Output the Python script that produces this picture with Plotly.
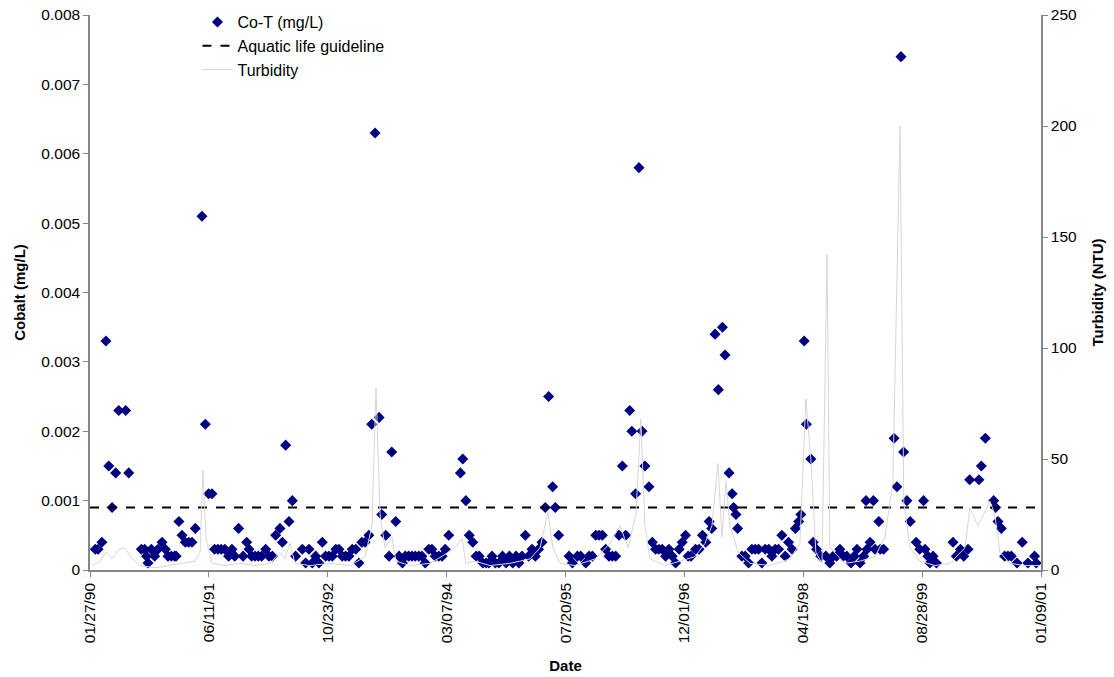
import pandas as pd
import plotly.graph_objects as go

# Cobalt samples: Excel date serials and total cobalt (mg/L)
co_serial = [
    32922, 32934, 32950, 32967, 32979, 32993, 33008, 33021, 33050, 33063,
    33116, 33130, 33138, 33144, 33158, 33172, 33186, 33203, 33217, 33228,
    33242, 33256, 33262, 33274, 33287, 33301, 33315, 33329, 33343, 33371,
    33385, 33399, 33413, 33424, 33438, 33452, 33467, 33483, 33497, 33509,
    33525, 33544, 33559, 33569, 33580, 33594, 33608, 33622, 33639, 33653,
    33667, 33681, 33699, 33709, 33723, 33737, 33751, 33765, 33793, 33807,
    33821, 33835, 33849, 33863, 33877, 33891, 33905, 33919, 33934, 33947,
    33961, 33975, 33989, 34003, 34018, 34031, 34043, 34057, 34073, 34085,
    34099, 34116, 34127, 34144, 34158, 34169, 34186, 34200, 34214, 34226,
    34240, 34254, 34268, 34283, 34296, 34310, 34325, 34338, 34352, 34367,
    34381, 34394, 34409, 34458, 34468, 34481, 34495, 34510, 34524, 34537,
    34552, 34566, 34578, 34591, 34605, 34620, 34635, 34650, 34664, 34678,
    34692, 34704, 34717, 34731, 34745, 34759, 34773, 34787, 34801, 34815,
    34829, 34846, 34857, 34871, 34915, 34929, 34950, 34964, 34985, 34999,
    35013, 35027, 35041, 35055, 35069, 35083, 35097, 35111, 35125, 35139,
    35153, 35170, 35179, 35195, 35209, 35222, 35234, 35251, 35265, 35279,
    35293, 35307, 35321, 35335, 35349, 35363, 35378, 35391, 35405, 35416,
    35428, 35447, 35462, 35476, 35490, 35504, 35515, 35529, 35543, 35560,
    35571, 35588, 35601, 35607, 35617, 35624, 35642, 35656, 35670, 35684,
    35698, 35712, 35726, 35740, 35755, 35768, 35782, 35796, 35810, 35824,
    35838, 35853, 35867, 35881, 35890, 35904, 35913, 35932, 35942, 35956,
    35974, 35995, 36012, 36026, 36040, 36054, 36068, 36083, 36101, 36115,
    36126, 36139, 36154, 36164, 36168, 36181, 36195, 36202, 36218, 36224,
    36238, 36282, 36294, 36311, 36322, 36336, 36350, 36375, 36390, 36406,
    36412, 36424, 36433, 36446, 36460, 36530, 36544, 36561, 36575, 36593,
    36600, 36639, 36649, 36666, 36701, 36709, 36719, 36733, 36747, 36761,
    36775, 36799, 36821, 36845, 36873, 36880,
]
co_value = [
    0.0003, 0.0003, 0.0004, 0.0033, 0.0015, 0.0009, 0.0014, 0.0023, 0.0023, 0.0014,
    0.0003, 0.0003, 0.0002, 0.0001, 0.0003, 0.0002, 0.0003, 0.0004, 0.0003, 0.0002,
    0.0002, 0.0002, 0.0002, 0.0007, 0.0005, 0.0004, 0.0004, 0.0004, 0.0006, 0.0051,
    0.0021, 0.0011, 0.0011, 0.0003, 0.0003, 0.0003, 0.0003, 0.0002, 0.0003, 0.0002,
    0.0006, 0.0002, 0.0004, 0.0003, 0.0002, 0.0002, 0.0002, 0.0002, 0.0003, 0.0002,
    0.0002, 0.0005, 0.0006, 0.0004, 0.0018, 0.0007, 0.0010, 0.0002, 0.0003, 0.0001,
    0.0003, 0.0001, 0.0002, 0.0001, 0.0004, 0.0002, 0.0002, 0.0002, 0.0003, 0.0003,
    0.0002, 0.0002, 0.0002, 0.0003, 0.0003, 0.0001, 0.0004, 0.0004, 0.0005, 0.0021,
    0.0063, 0.0022, 0.0008, 0.0005, 0.0002, 0.0017, 0.0007, 0.0002, 0.0001, 0.0002,
    0.0002, 0.0002, 0.0002, 0.0002, 0.0002, 0.0001, 0.0003, 0.0003, 0.0002, 0.0002,
    0.0002, 0.0003, 0.0005, 0.0014, 0.0016, 0.0010, 0.0005, 0.0004, 0.0002, 0.0002,
    0.0001, 0.0001, 0.0001, 0.0002, 0.0001, 0.0001, 0.0002, 0.0001, 0.0002, 0.0001,
    0.0002, 0.0001, 0.0002, 0.0005, 0.0002, 0.0003, 0.0002, 0.0003, 0.0004, 0.0009,
    0.0025, 0.0012, 0.0009, 0.0005, 0.0002, 0.0001, 0.0002, 0.0002, 0.0001, 0.0002,
    0.0002, 0.0005, 0.0005, 0.0005, 0.0003, 0.0002, 0.0002, 0.0002, 0.0005, 0.0015,
    0.0005, 0.0023, 0.0020, 0.0011, 0.0058, 0.0020, 0.0015, 0.0012, 0.0004, 0.0003,
    0.0003, 0.0003, 0.0002, 0.0003, 0.0002, 0.0001, 0.0003, 0.0004, 0.0005, 0.0002,
    0.0002, 0.0003, 0.0003, 0.0005, 0.0004, 0.0007, 0.0006, 0.0034, 0.0026, 0.0035,
    0.0031, 0.0014, 0.0011, 0.0009, 0.0008, 0.0006, 0.0002, 0.0002, 0.0001, 0.0003,
    0.0003, 0.0003, 0.0001, 0.0003, 0.0003, 0.0002, 0.0003, 0.0003, 0.0005, 0.0002,
    0.0004, 0.0003, 0.0006, 0.0007, 0.0008, 0.0033, 0.0021, 0.0016, 0.0004, 0.0003,
    0.0002, 0.0002, 0.0001, 0.0002, 0.0002, 0.0003, 0.0002, 0.0002, 0.0001, 0.0002,
    0.0003, 0.0001, 0.0002, 0.0010, 0.0003, 0.0004, 0.0010, 0.0003, 0.0007, 0.0003,
    0.0003, 0.0019, 0.0012, 0.0074, 0.0017, 0.0010, 0.0007, 0.0004, 0.0003, 0.0010,
    0.0003, 0.0002, 0.0001, 0.0002, 0.0001, 0.0004, 0.0002, 0.0003, 0.0002, 0.0003,
    0.0013, 0.0013, 0.0015, 0.0019, 0.0010, 0.0009, 0.0007, 0.0006, 0.0002, 0.0002,
    0.0002, 0.0001, 0.0004, 0.0001, 0.0002, 0.0001,
]

# Turbidity record: Excel date serials and NTU
turb_serial = [
    32908, 32942, 32967, 32993, 33018, 33047, 33077, 33110, 33173, 33236,
    33300, 33342, 33363, 33375, 33388, 33413, 33468, 33531, 33594, 33657,
    33699, 33720, 33741, 33762, 33825, 33909, 33994, 34057, 34086, 34103,
    34120, 34141, 34170, 34187, 34246, 34330, 34393, 34435, 34465, 34481,
    34519, 34582, 34667, 34751, 34793, 34826, 34847, 34877, 34940, 35024,
    35087, 35129, 35163, 35196, 35217, 35234, 35255, 35318, 35382, 35445,
    35487, 35516, 35541, 35558, 35575, 35592, 35626, 35676, 35760, 35844,
    35886, 35911, 35932, 35953, 35979, 36000, 36012, 36075, 36139, 36202,
    36244, 36277, 36307, 36323, 36349, 36391, 36454, 36517, 36580, 36601,
    36635, 36685, 36706, 36727, 36769, 36832, 36896,
]
turb_value = [
    2, 4, 8, 5, 9, 10, 5, 2, 1, 2,
    3, 4, 8, 45, 14, 3, 2, 3, 2, 3,
    8, 5, 12, 3, 2, 3, 2, 6, 20, 82,
    25, 10, 15, 4, 2, 3, 7, 10, 14, 3,
    4, 2, 3, 5, 10, 26, 10, 3, 2, 5,
    12, 20, 10, 25, 68, 20, 5, 2, 4, 6,
    12, 20, 48, 15, 40, 20, 8, 3, 2, 5,
    12, 77, 50, 8, 3, 142, 10, 3, 4, 6,
    15, 40, 200, 30, 10, 4, 2, 3, 10, 28,
    20, 31, 25, 8, 3, 2, 2,
]

guideline_value = 0.0009
axis_start_serial = 32900
axis_end_serial = 36900
tick_labels = ["01/27/90", "06/11/91", "10/23/92", "03/07/94", "07/20/95",
               "12/01/96", "04/15/98", "08/28/99", "01/09/01"]
left_ticks = [0, 0.001, 0.002, 0.003, 0.004, 0.005, 0.006, 0.007, 0.008]
right_ticks = [0, 50, 100, 150, 200, 250]


def to_date(serials):
    return pd.to_datetime(pd.Series(serials), unit="D", origin="1899-12-30")


co_dates = to_date(co_serial)
turb_dates = to_date(turb_serial)
x_start, x_end = to_date([axis_start_serial, axis_end_serial])
tick_dates = pd.to_datetime(tick_labels, format="%m/%d/%y")

FONT = "Liberation Sans, Arial, sans-serif"

fig = go.Figure()

fig.add_trace(go.Scatter(
    x=co_dates, y=co_value, mode="markers", name="Co-T (mg/L)",
    marker=dict(symbol="diamond", size=8.5, color="#000080",
                line=dict(width=0)),
))
fig.add_trace(go.Scatter(
    x=[x_start, x_end], y=[guideline_value, guideline_value], mode="lines",
    name="Aquatic life guideline",
    line=dict(color="black", width=2, dash="dash"),
))
fig.add_trace(go.Scatter(
    x=turb_dates, y=turb_value, mode="lines", name="Turbidity", yaxis="y2",
    line=dict(color="#d6d6d6", width=1),
))

axis_common = dict(
    showline=True, linecolor="#868686", linewidth=1.5, ticks="outside",
    ticklen=5, tickcolor="#868686", showgrid=False, zeroline=False,
    tickfont=dict(family=FONT, size=15.5, color="black"),
)

fig.update_layout(
    width=1114, height=677,
    margin=dict(l=90, r=73, t=15, b=107, autoexpand=False),
    paper_bgcolor="white", plot_bgcolor="white",
    font=dict(family=FONT, size=15, color="black"),
    showlegend=True,
    legend=dict(x=0.113, y=1.018, xanchor="left", yanchor="top",
                bgcolor="rgba(0,0,0,0)", font=dict(family=FONT, size=16),
                itemwidth=30, tracegroupgap=0),
    xaxis=dict(
        **axis_common, type="date", range=[x_start, x_end],
        tickmode="array", tickvals=tick_dates, ticktext=tick_labels,
        tickangle=-90, automargin=False,
        title=dict(text="<b>Date</b>", font=dict(family=FONT, size=15),
                   standoff=18),
    ),
    yaxis=dict(
        **axis_common, range=[0, 0.008], tickmode="array",
        tickvals=left_ticks, ticktext=[("%g" % v) for v in left_ticks],
        automargin=False,
        title=dict(text="<b>Cobalt (mg/L)</b>", font=dict(family=FONT, size=15),
                   standoff=12),
    ),
    yaxis2=dict(
        **axis_common, overlaying="y", side="right", range=[0, 250],
        tickmode="array", tickvals=right_ticks, automargin=False,
        title=dict(text="<b>Turbidity (NTU)</b>", font=dict(family=FONT, size=15),
                   standoff=16),
    ),
)

fig.write_html("out.html")
